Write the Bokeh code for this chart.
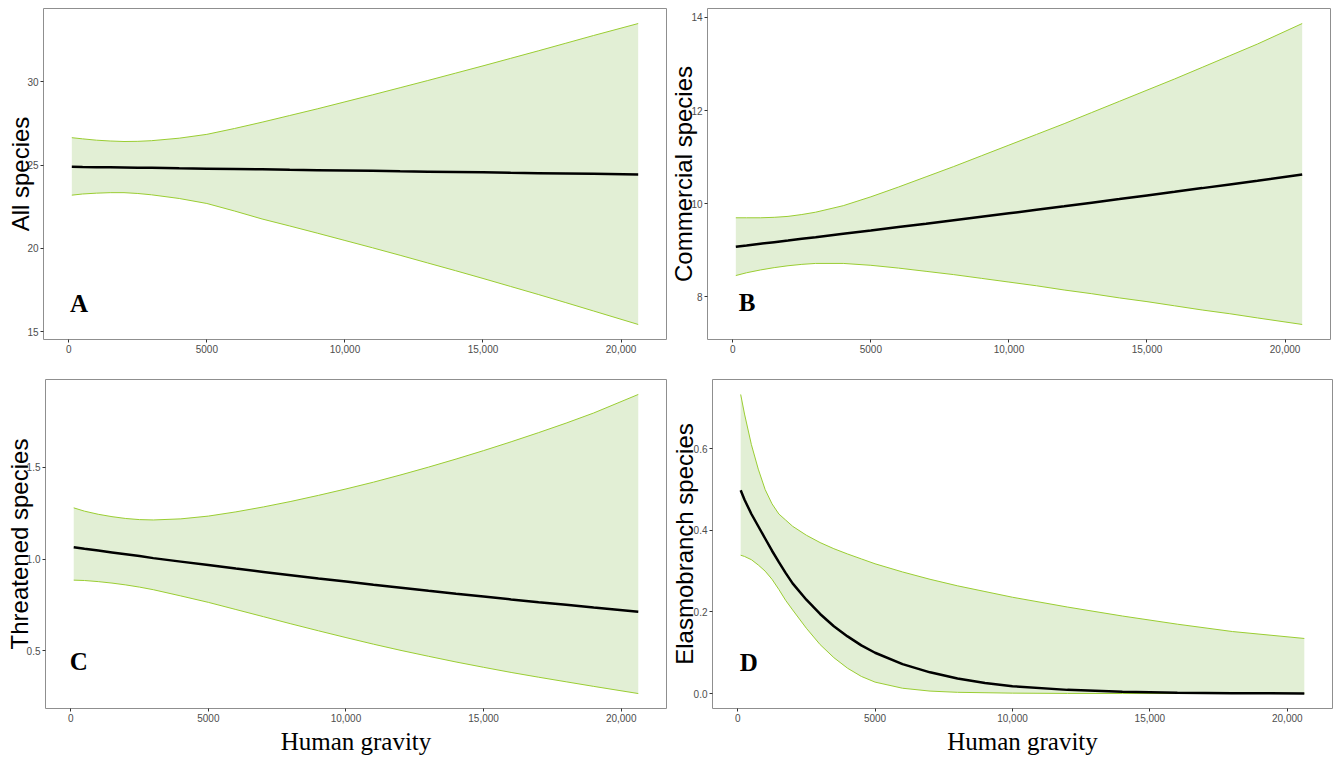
from bokeh.plotting import figure
from bokeh.layouts import column, row
from bokeh.models import Range1d, FixedTicker
from bokeh.core.properties import value
from bokeh.embed import file_html
from bokeh.resources import INLINE

# ---------------- data ----------------
gravity = [110, 500, 1000, 1500, 2000, 2500, 3000, 4000, 5000, 6000, 7000, 8000,
           9000, 10000, 11000, 12000, 13000, 14000, 15000, 16000, 17000, 18000, 19000, 20620]

all_mean = [24.90, 24.89, 24.88, 24.87, 24.86, 24.85, 24.84, 24.81, 24.79, 24.77, 24.75, 24.72,
            24.70, 24.68, 24.66, 24.63, 24.61, 24.59, 24.57, 24.54, 24.52, 24.50, 24.48, 24.44]
all_upper = [26.65, 26.58, 26.50, 26.45, 26.42, 26.43, 26.47, 26.62, 26.85, 27.20, 27.58, 27.98,
             28.38, 28.80, 29.22, 29.65, 30.08, 30.52, 30.96, 31.41, 31.86, 32.32, 32.78, 33.50]
all_lower = [23.20, 23.27, 23.32, 23.35, 23.35, 23.30, 23.22, 23.00, 22.70, 22.25, 21.77, 21.35,
             20.92, 20.48, 20.04, 19.59, 19.13, 18.67, 18.20, 17.72, 17.24, 16.75, 16.25, 15.44]

com_mean = [9.08, 9.107, 9.142, 9.177, 9.212, 9.248, 9.283, 9.355, 9.427, 9.500, 9.573, 9.647,
            9.721, 9.796, 9.872, 9.948, 10.025, 10.102, 10.180, 10.258, 10.337, 10.417, 10.497, 10.63]
com_upper = [9.70, 9.70, 9.70, 9.71, 9.73, 9.77, 9.82, 9.96, 10.15, 10.36, 10.58, 10.80,
             11.03, 11.26, 11.49, 11.72, 11.96, 12.20, 12.44, 12.68, 12.93, 13.18, 13.43, 13.87]
com_lower = [8.46, 8.52, 8.58, 8.63, 8.67, 8.70, 8.72, 8.72, 8.68, 8.62, 8.55, 8.48,
             8.40, 8.32, 8.24, 8.15, 8.07, 7.98, 7.90, 7.81, 7.72, 7.64, 7.55, 7.41]

thr_mean = [1.065, 1.057, 1.047, 1.037, 1.027, 1.017, 1.006, 0.987, 0.968, 0.949, 0.931, 0.913,
            0.895, 0.878, 0.861, 0.845, 0.828, 0.812, 0.797, 0.781, 0.766, 0.752, 0.737, 0.714]
thr_upper = [1.280, 1.262, 1.245, 1.232, 1.222, 1.216, 1.214, 1.220, 1.235, 1.258, 1.285, 1.315,
             1.348, 1.383, 1.420, 1.460, 1.502, 1.546, 1.592, 1.640, 1.690, 1.742, 1.797, 1.898]
thr_lower = [0.886, 0.884, 0.878, 0.870, 0.860, 0.848, 0.834, 0.800, 0.765, 0.726, 0.687, 0.648,
             0.610, 0.573, 0.537, 0.503, 0.471, 0.440, 0.411, 0.383, 0.357, 0.332, 0.307, 0.268]

gravity_d = [110, 250, 500, 750, 1000, 1250, 1500, 1750, 2000, 2500, 3000, 3500, 4000, 4500,
             5000, 6000, 7000, 8000, 9000, 10000, 12000, 14000, 16000, 18000, 20620]
ela_mean = [0.498, 0.475, 0.440, 0.410, 0.380, 0.350, 0.322, 0.295, 0.270, 0.230, 0.195, 0.165,
            0.140, 0.118, 0.100, 0.072, 0.052, 0.037, 0.026, 0.018, 0.009, 0.0045, 0.002, 0.001, 0.0004]
ela_upper = [0.733, 0.685, 0.610, 0.550, 0.500, 0.465, 0.440, 0.425, 0.410, 0.388, 0.370, 0.355,
             0.342, 0.330, 0.318, 0.298, 0.280, 0.264, 0.250, 0.236, 0.212, 0.190, 0.170, 0.152, 0.135]
ela_lower = [0.339, 0.336, 0.328, 0.315, 0.300, 0.280, 0.255, 0.228, 0.205, 0.160, 0.120, 0.088,
             0.062, 0.042, 0.028, 0.013, 0.006, 0.003, 0.002, 0.001, 0.0003, 0.0001, 0.0, 0.0, 0.0]

x_ticks = [0, 5000, 10000, 15000, 20000]
x_tick_labels = ["0", "5000", "10,000", "15,000", "20,000"]

y_titles = ["All species", "Commercial species", "Threatened species", "Elasmobranch species"]
y_ticks = [[15, 20, 25, 30], [8, 10, 12, 14], [0.5, 1.0, 1.5], [0.0, 0.2, 0.4, 0.6]]
y_tick_labels = [["15", "20", "25", "30"], ["8", "10", "12", "14"],
                 ["0.5", "1.0", "1.5"], ["0.0", "0.2", "0.4", "0.6"]]
panel_letters = ["A", "B", "C", "D"]
letter_pos = [(47, 16.70), (217, 7.875), (-36, 0.442), (72, 0.0762)]
x_title = "Human gravity"

FILL = "#e2efd5"
EDGE = "#9acd32"
SANS = "Liberation Sans"
SERIF = "Liberation Serif"


def expand(vals, frac=0.05):
    lo, hi = min(vals), max(vals)
    d = (hi - lo) * frac
    return lo - d, hi + d


def make_panel(i, xs, mean, upper, lower, fw, fh, bl, br, bt, bb, ystand, show_xlabel):
    p = figure(frame_width=fw, frame_height=fh, output_backend="svg", toolbar_location=None,
               min_border_left=bl, min_border_right=br, min_border_top=bt, min_border_bottom=bb,
               background_fill_color="white", border_fill_color="white")
    x0, x1 = expand(xs)
    y0, y1 = expand(upper + lower)
    p.x_range = Range1d(x0, x1)
    p.y_range = Range1d(y0, y1)
    p.xgrid.visible = False
    p.ygrid.visible = False
    p.outline_line_color = "#8f8f8f"
    p.outline_line_width = 1

    p.varea(x=xs, y1=lower, y2=upper, fill_color=FILL)
    p.line(xs, upper, line_color=EDGE, line_width=1)
    p.line(xs, lower, line_color=EDGE, line_width=1)
    p.line(xs, mean, line_color="black", line_width=2.5)

    lx, ly = letter_pos[i]
    p.text(x=[lx], y=[ly], text=[panel_letters[i]], text_font=value(SERIF),
           text_font_style="bold", text_font_size="25px", text_align="left",
           text_baseline="middle", text_color="black")

    for ax in (p.xaxis[0], p.yaxis[0]):
        ax.axis_line_color = None
        ax.major_tick_line_color = "#333333"
        ax.major_tick_out = 3
        ax.major_tick_in = 0
        ax.minor_tick_line_color = None
        ax.major_label_text_font = SANS
        ax.major_label_text_font_size = "10px"
        ax.major_label_text_color = "#4d4d4d"
        ax.major_label_standoff = 2

    p.xaxis.ticker = FixedTicker(ticks=x_ticks)
    p.xaxis.major_label_overrides = {t: l for t, l in zip(x_ticks, x_tick_labels)}
    p.yaxis.ticker = FixedTicker(ticks=y_ticks[i])
    p.yaxis.major_label_overrides = {t: l for t, l in zip(y_ticks[i], y_tick_labels[i])}

    p.yaxis.axis_label = y_titles[i]
    p.yaxis.axis_label_text_font = SANS
    p.yaxis.axis_label_text_font_size = "24px"
    p.yaxis.axis_label_text_font_style = "normal"
    p.yaxis.axis_label_text_color = "black"
    p.yaxis.axis_label_standoff = ystand

    if show_xlabel:
        p.xaxis.axis_label = x_title
        p.xaxis.axis_label_text_font = SERIF
        p.xaxis.axis_label_text_font_size = "25px"
        p.xaxis.axis_label_text_font_style = "normal"
        p.xaxis.axis_label_text_color = "black"
        p.xaxis.axis_label_standoff = 3
    return p


pA = make_panel(0, gravity, all_mean, all_upper, all_lower, 623, 331, 43, 1, 8, 39, -10, False)
pB = make_panel(1, gravity, com_mean, com_upper, com_lower, 623, 331, 40, 4, 8, 39, -9, False)
pC = make_panel(2, gravity, thr_mean, thr_upper, thr_lower, 621, 329, 45, 1, 1, 51, -9, True)
pD = make_panel(3, gravity_d, ela_mean, ela_upper, ela_lower, 620, 329, 43, 4, 1, 51, -7, True)

p = column(row(pA, pB, spacing=0), row(pC, pD, spacing=0), spacing=0)

with open("out.html", "w") as f:
    f.write(file_html(p, INLINE))
